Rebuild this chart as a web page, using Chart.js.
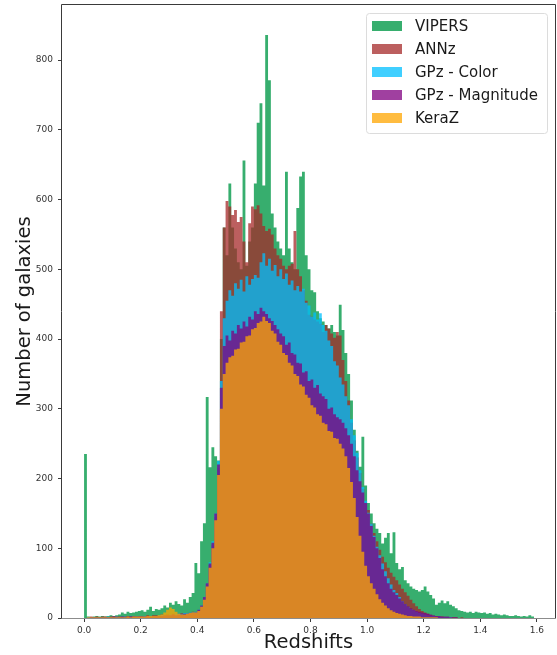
<!DOCTYPE html>
<html>
<head>
<meta charset="utf-8">
<title>Redshift distribution</title>
<script src="https://cdn.jsdelivr.net/npm/chart.js@4.4.1/dist/chart.umd.min.js"></script>
<style>
  html, body { margin: 0; padding: 0; background: #fff; }
  #wrap { width: 557px; height: 655px; }
</style>
</head>
<body>
<div id="wrap"><canvas id="hist"></canvas></div>
<script>
// ------------------------------------------------------------
//  Histogram of photometric redshifts, 0.01 wide bins from z = 0
// ------------------------------------------------------------
const BIN_START = 0;
const BIN_WIDTH = 0.01;

const vipers = [
  235, 2, 1, 2, 3, 2, 3, 2, 3, 4,
  3, 4, 5, 8, 6, 9, 7, 8, 9, 10,
  11, 9, 12, 16, 10, 13, 12, 14, 18, 15,
  22, 19, 24, 20, 18, 27, 22, 30, 36, 79,
  64, 110, 136, 317, 216, 245, 232, 226, 400, 560,
  520, 623, 560, 530, 510, 500, 656, 505, 540, 560,
  623, 710, 738, 620, 836, 771, 580, 560, 540, 530,
  520, 640, 530, 510, 500, 588, 633, 640, 520, 500,
  470, 467, 440, 430, 425, 420, 415, 420, 410, 405,
  449, 413, 380, 350, 312, 270, 240, 217, 260, 190,
  165, 150, 136, 128, 122, 107, 115, 122, 93, 123,
  79, 70, 73, 54, 50, 45, 42, 40, 38, 40,
  45, 38, 33, 28, 19, 22, 25, 21, 24, 19,
  17, 14, 11, 10, 9, 8, 9, 7, 9, 8,
  7, 8, 6, 7, 5, 6, 5, 4, 5, 4,
  3, 3, 4, 3, 2, 3, 2, 4, 2
];

const annz = [
  0, 1, 2, 1, 2, 1, 2, 2, 1, 2,
  2, 3, 2, 2, 3, 2, 3, 3, 2, 3,
  3, 3, 4, 3, 4, 4, 3, 5, 4, 5,
  5, 6, 5, 6, 7, 6, 7, 8, 9, 9,
  10, 16, 28, 48, 76, 105, 145, 215, 440, 560,
  598, 590, 578, 585, 568, 575, 540, 510, 566, 590,
  586, 592, 580, 562, 555, 558, 550, 530, 520, 515,
  505, 500, 505, 508, 555, 500, 490, 470, 455, 435,
  432, 428, 425, 422, 410, 420, 415, 408, 402, 410,
  405, 370, 340, 312, 280, 255, 230, 208, 185, 165,
  155, 135, 122, 110, 98, 88, 80, 72, 65, 59,
  54, 48, 42, 37, 32, 26, 21, 17, 13, 10,
  8, 6, 4, 3, 3, 2, 2, 1, 1, 1,
  1, 1, 0, 1, 0, 0, 0, 0, 0, 0,
  0, 0, 0, 0, 0, 0, 0, 0, 0, 0,
  0, 0, 0, 0, 0, 0, 0, 0, 0
];

const gpzColor = [
  0, 1, 1, 1, 1, 1, 1, 1, 2, 1,
  1, 2, 1, 2, 2, 1, 2, 2, 2, 2,
  2, 3, 2, 3, 3, 3, 3, 4, 4, 4,
  5, 5, 5, 6, 6, 7, 7, 8, 8, 9,
  12, 18, 30, 50, 80, 110, 150, 225, 340, 430,
  455, 470, 462, 480, 472, 485, 468, 490, 478, 486,
  492, 488, 510, 523, 505, 515, 498, 506, 490, 500,
  486, 494, 478, 484, 470, 476, 468, 472, 452, 448,
  432, 438, 428, 437, 420, 412, 398, 390, 368, 362,
  345, 335, 318, 305, 285, 262, 237, 212, 188, 168,
  151, 135, 118, 102, 90, 78, 67, 57, 48, 40,
  36, 30, 24, 20, 16, 13, 11, 9, 7, 6,
  5, 4, 3, 3, 2, 2, 1, 1, 1, 1,
  0, 0, 0, 0, 0, 0, 0, 0, 0, 0,
  0, 0, 0, 0, 0, 0, 0, 0, 0, 0,
  0, 0, 0, 0, 0, 0, 0, 0, 0
];

const gpzMagnitude = [
  0, 0, 1, 1, 1, 1, 1, 1, 1, 1,
  2, 1, 1, 2, 1, 2, 2, 2, 2, 2,
  2, 2, 3, 2, 3, 3, 3, 3, 4, 4,
  4, 5, 4, 5, 5, 6, 6, 7, 7, 8,
  12, 18, 30, 50, 78, 108, 150, 220, 330, 390,
  405, 398, 412, 408, 420, 415, 425, 418, 432, 428,
  440, 436, 445, 440, 436, 430, 426, 420, 414, 408,
  404, 392, 395, 380, 378, 366, 365, 352, 354, 340,
  342, 330, 334, 322, 318, 314, 300, 302, 292, 288,
  285, 280, 272, 262, 250, 232, 212, 196, 180, 165,
  150, 132, 116, 100, 86, 70, 60, 50, 42, 37,
  33, 28, 24, 20, 17, 14, 12, 10, 9, 8,
  7, 6, 5, 4, 3, 3, 2, 2, 2, 1,
  1, 1, 0, 0, 0, 0, 0, 0, 0, 0,
  0, 0, 0, 0, 0, 0, 0, 0, 0, 0,
  0, 0, 0, 0, 0, 0, 0, 0, 0
];

const keraz = [
  0, 1, 1, 1, 1, 1, 1, 1, 1, 1,
  1, 1, 1, 1, 1, 2, 1, 2, 2, 2,
  2, 2, 3, 3, 3, 3, 4, 5, 8, 12,
  15, 13, 9, 6, 5, 5, 6, 7, 8, 8,
  10, 16, 26, 45, 72, 100, 140, 205, 300, 350,
  366, 374, 376, 385, 386, 395, 396, 404, 405, 414,
  416, 423, 425, 432, 426, 423, 412, 408, 396, 392,
  380, 377, 366, 362, 350, 347, 335, 332, 320, 316,
  305, 302, 292, 290, 280, 278, 268, 267, 258, 257,
  250, 243, 232, 215, 195, 172, 145, 118, 95, 75,
  60, 50, 42, 34, 27, 22, 18, 14, 11, 9,
  7, 6, 5, 4, 3, 3, 2, 2, 2, 1,
  1, 1, 1, 1, 1, 0, 0, 0, 0, 0,
  0, 0, 0, 0, 0, 0, 0, 0, 0, 0,
  0, 0, 0, 0, 0, 0, 0, 0, 0, 0,
  0, 0, 0, 0, 0, 0, 0, 0, 0
];

const xTicks = [0.0, 0.2, 0.4, 0.6, 0.8, 1.0, 1.2, 1.4, 1.6];
const yTicks = [0, 100, 200, 300, 400, 500, 600, 700, 800];

// left edge of every bin, plus the closing right edge
const binEdges = vipers.map((_, i) => BIN_START + i * BIN_WIDTH).concat(BIN_START + vipers.length * BIN_WIDTH);

// each bin holds its count from its left edge to the next edge (stepped 'before')
const toSteps = counts => binEdges.map((x, i) => ({ x, y: counts[Math.min(i, counts.length - 1)] }));

Chart.defaults.font.family = '"DejaVu Sans", sans-serif';

// box round the plot, like the matplotlib spines (bottom one a bit lighter)
const frame = {
  id: 'frame',
  afterDatasetsDraw(chart) {
    const { ctx, chartArea: a } = chart;
    const l = Math.round(a.left) - 0.5, r = Math.round(a.right) + 0.5;
    const t = Math.round(a.top) - 0.5, b = Math.round(a.bottom) + 0.5;
    ctx.save();
    ctx.lineWidth = 1;
    ctx.strokeStyle = '#3a3a3a';
    ctx.beginPath();
    ctx.moveTo(l, b); ctx.lineTo(l, t); ctx.lineTo(r, t); ctx.lineTo(r, b);
    ctx.stroke();
    ctx.strokeStyle = '#8c8c8c';
    ctx.beginPath();
    ctx.moveTo(l, b); ctx.lineTo(r, b);
    ctx.stroke();
    ctx.restore();
  }
};

// legend drawn inside the top-right corner of the plot
const insideLegend = {
  id: 'insideLegend',
  afterDatasetsDraw(chart) {
    const { ctx, chartArea } = chart;
    const boxW = 181, boxH = 120, rowH = 23;
    const x0 = chartArea.right - 8 - boxW;
    const y0 = chartArea.top + 8;
    ctx.save();
    ctx.beginPath();
    ctx.roundRect(x0 + 0.5, y0 + 0.5, boxW, boxH, 3);
    ctx.fillStyle = 'rgba(255,255,255,0.85)';
    ctx.fill();
    ctx.strokeStyle = '#dcdcdc';
    ctx.lineWidth = 1;
    ctx.stroke();
    ctx.font = '15px "DejaVu Sans"';
    ctx.textBaseline = 'middle';
    chart.data.datasets.forEach((ds, i) => {
      const cy = y0 + 13 + i * rowH;
      ctx.fillStyle = ds.backgroundColor;
      ctx.fillRect(x0 + 6, cy - 5, 30, 10);
      ctx.fillStyle = '#1a1a1a';
      ctx.fillText(ds.label, x0 + 49, cy + 1);
    });
    ctx.restore();
  }
};

const axisGrid = { drawOnChartArea: false, drawTicks: true, tickLength: 4, color: '#3a3a3a' };

// filled step outlines: datasets with a lower order are painted on top
const histSet = (label, counts, color, order) => ({
  label, data: toSteps(counts), order,
  backgroundColor: color, borderColor: 'rgba(0,0,0,0)', borderWidth: 0,
  fill: 'origin', stepped: 'before', pointRadius: 0, tension: 0
});

new Chart(document.getElementById('hist'), {
  type: 'line',
  data: {
    datasets: [
      histSet('VIPERS',          vipers,       'rgba(20,160,85,0.85)', 5),
      histSet('ANNz',            annz,         'rgba(165,42,42,0.75)', 4),
      histSet('GPz - Color',     gpzColor,     'rgba(0,191,255,0.75)', 3),
      histSet('GPz - Magnitude', gpzMagnitude, 'rgba(128,0,128,0.75)', 2),
      histSet('KeraZ',           keraz,        'rgba(255,165,0,0.75)', 1)
    ]
  },
  options: {
    responsive: true,
    maintainAspectRatio: false,
    animation: false,
    layout: { padding: { top: 5, right: 2, left: 0, bottom: 0 } },
    plugins: { legend: { display: false }, tooltip: { enabled: false } },
    scales: {
      x: {
        type: 'linear', min: -0.078, max: 1.664, offset: false,
        grid: axisGrid,
        border: { display: false },
        ticks: { font: { size: 9 }, color: '#333', padding: 3, maxRotation: 0, autoSkip: false,
                 callback: v => Number(v).toFixed(1) },
        afterBuildTicks: s => { s.ticks = xTicks.map(v => ({ value: v })); },
        title: { display: true, text: 'Redshifts', font: { size: 19.5 }, color: '#1a1a1a', padding: 0 },
        afterFit: s => { s.height = 37; s.paddingLeft = 0; s.paddingRight = 0; }
      },
      y: {
        min: 0, max: 879,
        grid: axisGrid,
        border: { display: false },
        ticks: { font: { size: 9, lineHeight: 1 }, color: '#333', padding: 5 },
        afterBuildTicks: s => { s.ticks = yTicks.map(v => ({ value: v })); },
        title: { display: true, text: 'Number of galaxies', font: { size: 19.5 }, color: '#1a1a1a', padding: { top: 13 } },
        afterFit: s => { s.width = 62; s.paddingTop = 0; s.paddingBottom = 0; }
      }
    }
  },
  plugins: [frame, insideLegend]
});
</script>
</body>
</html>
